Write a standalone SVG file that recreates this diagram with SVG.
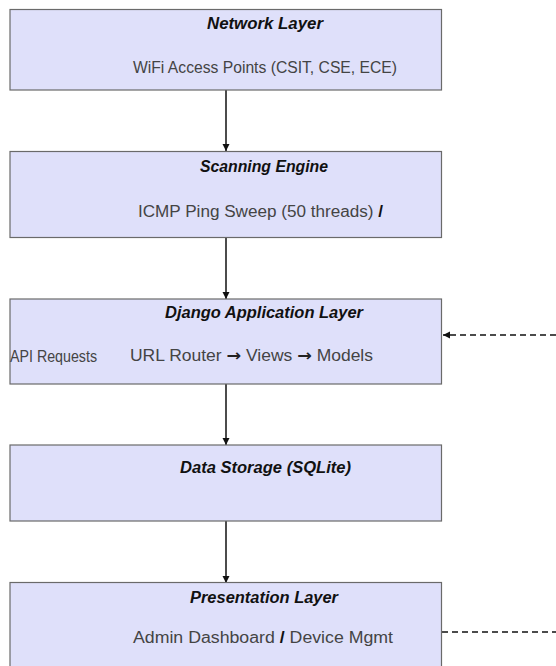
<svg xmlns="http://www.w3.org/2000/svg" width="556" height="666" viewBox="0 0 556 666">
<style>
.box{fill:#dfe0fa;stroke:#6a6a6a;stroke-width:1.2}
.t{font-family:"Liberation Sans",Arial,sans-serif;font-size:16px;font-weight:bold;font-style:italic;fill:#111;text-anchor:middle}
.s{font-family:"Liberation Sans",Arial,sans-serif;font-size:16px;fill:#444}
.sl{font-weight:bold;fill:#111}
.ar{font-family:"DejaVu Sans",sans-serif;font-weight:bold;fill:#222}
.c{stroke:#111;stroke-width:1.5;fill:none}
.d{stroke:#111;stroke-width:1.5;fill:none;stroke-dasharray:6 4}
</style>
<defs>
<marker id="ah" viewBox="0 0 10 10" refX="10" refY="5" markerWidth="7" markerHeight="9" markerUnits="userSpaceOnUse" orient="auto">
<path d="M0,0 L10,5 L0,10 z" fill="#111"/>
</marker>
</defs>
<rect width="556" height="666" fill="#fff"/>
<g id="connectors">
<line class="c" x1="226" y1="90" x2="226" y2="151" marker-end="url(#ah)"/>
<line class="c" x1="226" y1="238" x2="226" y2="299" marker-end="url(#ah)"/>
<line class="c" x1="226" y1="384" x2="226" y2="445" marker-end="url(#ah)"/>
<line class="c" x1="226" y1="521" x2="226" y2="583" marker-end="url(#ah)"/>
<line class="d" x1="556" y1="335" x2="443" y2="335" marker-end="url(#ah)"/>
<line class="d" x1="442" y1="632" x2="556" y2="632"/>
</g>
<g id="network">
<rect class="box" x="10" y="9.5" width="431.5" height="80.5"/>
<text class="t" x="265" y="29" textLength="116" lengthAdjust="spacingAndGlyphs">Network Layer</text>
<text class="s" x="133" y="73" textLength="264" lengthAdjust="spacingAndGlyphs">WiFi Access Points (CSIT, CSE, ECE)</text>
</g>
<g id="scanning">
<rect class="box" x="10" y="151.5" width="431.5" height="86"/>
<text class="t" x="264" y="172" textLength="128" lengthAdjust="spacingAndGlyphs">Scanning Engine</text>
<text class="s" x="138" y="217" textLength="245" lengthAdjust="spacingAndGlyphs">ICMP Ping Sweep (50 threads) <tspan class="sl">/</tspan></text>
</g>
<g id="django">
<rect class="box" x="10" y="299" width="431.5" height="85"/>
<text class="t" x="264" y="318" textLength="198" lengthAdjust="spacingAndGlyphs">Django Application Layer</text>
<text class="s" x="10" y="362" font-size="13" textLength="87" lengthAdjust="spacingAndGlyphs">API Requests</text>
<text class="s" x="130" y="361" textLength="243" lengthAdjust="spacingAndGlyphs">URL Router <tspan class="ar">→</tspan> Views <tspan class="ar">→</tspan> Models</text>
</g>
<g id="storage">
<rect class="box" x="10" y="445" width="431.5" height="76"/>
<text class="t" x="265.5" y="473" textLength="171" lengthAdjust="spacingAndGlyphs">Data Storage (SQLite)</text>
</g>
<g id="presentation">
<rect class="box" x="10" y="582.5" width="431.5" height="90"/>
<text class="t" x="264" y="603" textLength="148" lengthAdjust="spacingAndGlyphs">Presentation Layer</text>
<text class="s" x="133" y="643" textLength="260" lengthAdjust="spacingAndGlyphs">Admin Dashboard <tspan class="sl">/</tspan> Device Mgmt</text>
</g>
</svg>
